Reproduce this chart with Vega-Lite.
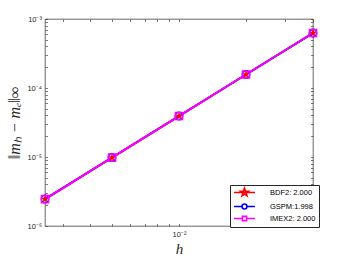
{
  "$schema": "https://vega.github.io/schema/vega-lite/v6.json",
  "width": 268,
  "height": 207,
  "autosize": {"type": "none"},
  "padding": {"left": 45, "top": 19, "right": 33, "bottom": 34},
  "background": "white",
  "config": {
    "view": {"stroke": "#262626", "strokeWidth": 0.7},
    "font": "Liberation Sans",
    "axis": {"domain": false, "grid": false, "labelFont": "Liberation Sans", "labelFontSize": 7.5, "labelColor": "#262626", "tickColor": "#262626", "tickWidth": 0.6},
    "legend": {"orient": "none", "legendX": 185, "legendY": 166, "title": null,
      "strokeColor": "#262626", "fillColor": "white", "padding": 3, "rowPadding": 0,
      "labelFont": "Liberation Sans", "labelFontSize": 7.5, "labelColor": "#000000", "labelOffset": 21, "symbolOffset": 7,
      "symbolSize": 49, "symbolStrokeWidth": 1.6}
  },
  "data": {
    "values": [
      {"h": 0.0025, "err": 2.45e-6, "method": "BDF2: 2.000"},
      {"h": 0.005, "err": 9.8e-6, "method": "BDF2: 2.000"},
      {"h": 0.01, "err": 3.92e-5, "method": "BDF2: 2.000"},
      {"h": 0.02, "err": 1.568e-4, "method": "BDF2: 2.000"},
      {"h": 0.04, "err": 6.27e-4, "method": "BDF2: 2.000"},
      {"h": 0.0025, "err": 2.46e-6, "method": "GSPM:1.998"},
      {"h": 0.005, "err": 9.83e-6, "method": "GSPM:1.998"},
      {"h": 0.01, "err": 3.93e-5, "method": "GSPM:1.998"},
      {"h": 0.02, "err": 1.57e-4, "method": "GSPM:1.998"},
      {"h": 0.04, "err": 6.26e-4, "method": "GSPM:1.998"},
      {"h": 0.0025, "err": 2.45e-6, "method": "IMEX2: 2.000"},
      {"h": 0.005, "err": 9.8e-6, "method": "IMEX2: 2.000"},
      {"h": 0.01, "err": 3.92e-5, "method": "IMEX2: 2.000"},
      {"h": 0.02, "err": 1.568e-4, "method": "IMEX2: 2.000"},
      {"h": 0.04, "err": 6.27e-4, "method": "IMEX2: 2.000"}
    ]
  },
  "resolve": {"axis": {"x": "independent", "y": "independent"}},
  "layer": [
    {
      "mark": {"type": "line", "strokeWidth": 2},
      "encoding": {
        "x": {"field": "h", "type": "quantitative",
          "scale": {"type": "log", "domain": [0.0025, 0.04], "nice": false},
          "axis": {"orient": "bottom", "title": "h", "titleFont": "Liberation Serif", "titleFontStyle": "italic", "titleFontWeight": "normal", "titleFontSize": 15, "titleColor": "#262626", "titlePadding": 3,
            "values": [0.003, 0.004, 0.005, 0.006, 0.007, 0.008, 0.009, 0.01, 0.02, 0.03, 0.04],
            "labelExpr": "datum.value == 0.01 ? '10⁻²' : ''", "tickSize": -2.5, "labelPadding": 7}},
        "y": {"field": "err", "type": "quantitative",
          "scale": {"type": "log", "domain": [1e-6, 1e-3], "nice": false},
          "axis": {"orient": "left", "title": "‖mₕ − mₑ‖∞", "titleFont": "Liberation Serif", "titleFontStyle": "italic", "titleFontWeight": "normal", "titleFontSize": 16, "titleColor": "#262626", "titlePadding": 4,
            "values": [1e-6, 2e-6, 3e-6, 4e-6, 5e-6, 6e-6, 7e-6, 8e-6, 9e-6, 1e-5, 2e-5, 3e-5, 4e-5, 5e-5, 6e-5, 7e-5, 8e-5, 9e-5, 1e-4, 2e-4, 3e-4, 4e-4, 5e-4, 6e-4, 7e-4, 8e-4, 9e-4, 1e-3],
            "labelExpr": "datum.value == 1e-6 ? '10⁻⁶' : datum.value == 1e-5 ? '10⁻⁵' : datum.value == 1e-4 ? '10⁻⁴' : datum.value == 1e-3 ? '10⁻³' : ''", "tickSize": -2.5, "labelPadding": 6}},
        "color": {"field": "method", "type": "nominal",
          "scale": {"domain": ["BDF2: 2.000", "GSPM:1.998", "IMEX2: 2.000"], "range": ["#ff0000", "#0000ff", "#ff00ff"]}}
      }
    },
    {
      "transform": [{"filter": "datum.method == 'BDF2: 2.000'"}],
      "mark": {"type": "point", "filled": true, "shape": "M0,-1.1L0.26,-0.36L1.05,-0.34L0.42,0.13L0.65,0.89L0,0.44L-0.65,0.89L-0.42,0.13L-1.05,-0.34L-0.26,-0.36Z", "size": 60, "color": "#ff0000", "opacity": 1},
      "encoding": {
        "x": {"field": "h", "type": "quantitative", "scale": {"type": "log", "domain": [0.0025, 0.04], "nice": false}, "axis": null},
        "y": {"field": "err", "type": "quantitative", "scale": {"type": "log", "domain": [1e-6, 1e-3], "nice": false}, "axis": null}
      }
    },
    {
      "transform": [{"filter": "datum.method == 'GSPM:1.998'"}],
      "mark": {"type": "point", "filled": false, "shape": "circle", "size": 55, "strokeWidth": 1.5, "color": "#0000ff", "opacity": 1},
      "encoding": {
        "x": {"field": "h", "type": "quantitative", "scale": {"type": "log", "domain": [0.0025, 0.04], "nice": false}, "axis": null},
        "y": {"field": "err", "type": "quantitative", "scale": {"type": "log", "domain": [1e-6, 1e-3], "nice": false}, "axis": null}
      }
    },
    {
      "transform": [{"filter": "datum.method == 'IMEX2: 2.000'"}],
      "mark": {"type": "point", "filled": false, "shape": "square", "size": 50, "strokeWidth": 1.5, "color": "#ff00ff", "opacity": 1},
      "encoding": {
        "x": {"field": "h", "type": "quantitative", "scale": {"type": "log", "domain": [0.0025, 0.04], "nice": false}, "axis": null},
        "y": {"field": "err", "type": "quantitative", "scale": {"type": "log", "domain": [1e-6, 1e-3], "nice": false}, "axis": null}
      }
    },
    {
      "transform": [{"filter": "false"}],
      "mark": {"type": "point", "filled": false, "strokeWidth": 1.5, "size": 49, "opacity": 1},
      "encoding": {
        "x": {"field": "h", "type": "quantitative", "scale": {"type": "log", "domain": [0.0025, 0.04], "nice": false},
          "axis": {"orient": "top", "labels": false, "title": null, "values": [0.003, 0.004, 0.005, 0.006, 0.007, 0.008, 0.009, 0.01, 0.02, 0.03, 0.04], "tickSize": -2.5}},
        "y": {"field": "err", "type": "quantitative", "scale": {"type": "log", "domain": [1e-6, 1e-3], "nice": false},
          "axis": {"orient": "right", "labels": false, "title": null, "values": [1e-6, 2e-6, 3e-6, 4e-6, 5e-6, 6e-6, 7e-6, 8e-6, 9e-6, 1e-5, 2e-5, 3e-5, 4e-5, 5e-5, 6e-5, 7e-5, 8e-5, 9e-5, 1e-4, 2e-4, 3e-4, 4e-4, 5e-4, 6e-4, 7e-4, 8e-4, 9e-4, 1e-3], "tickSize": -2.5}},
        "color": {"field": "method", "type": "nominal",
          "scale": {"domain": ["BDF2: 2.000", "GSPM:1.998", "IMEX2: 2.000"], "range": ["#ff0000", "#0000ff", "#ff00ff"]}},
        "shape": {"field": "method", "type": "nominal",
          "scale": {"domain": ["BDF2: 2.000", "GSPM:1.998", "IMEX2: 2.000"], "range": [
            "M-3,0H3M0,-1.2L0.28,-0.39L1.14,-0.37L0.46,0.14L0.71,0.97L0,0.48L-0.71,0.97L-0.46,0.14L-1.14,-0.37L-0.28,-0.39Z",
            "M-3,0H-0.7M0.7,0H3M0.7,0A0.7,0.7 0 1,1 -0.7,0A0.7,0.7 0 1,1 0.7,0",
            "M-3,0H-0.6M0.6,0H3M-0.6,-0.6H0.6V0.6H-0.6Z"]}},
        "fill": {"condition": {"test": "datum.method == 'BDF2: 2.000'", "value": "#ff0000"}, "value": "transparent"}
      }
    }
  ]
}
